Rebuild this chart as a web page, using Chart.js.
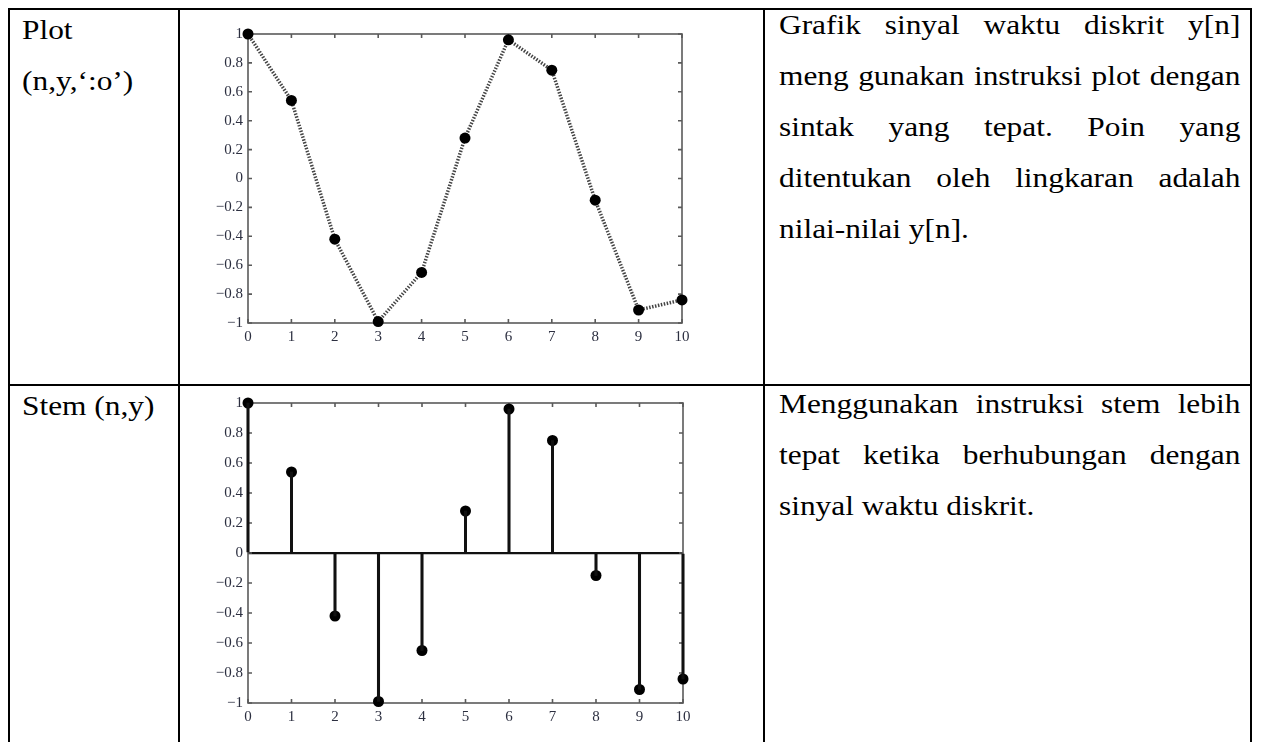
<!DOCTYPE html>
<html>
<head>
<meta charset="utf-8">
<script src="https://cdn.jsdelivr.net/npm/chart.js@4.4.1/dist/chart.umd.min.js"></script>
<style>
  body { margin: 0; background: #fff; width: 1261px; height: 742px; overflow: hidden; position: relative; }
  .garis { position: absolute; background: #000; }
  .teks {
    position: absolute;
    font-family: 'Liberation Serif', 'Times New Roman', serif;
    font-size: 26.6px;
    line-height: 51px;
    color: #000;
    transform: scaleX(1.18);
    transform-origin: 0 0;
    white-space: nowrap;
  }
  .teks.rata div { text-align: justify; text-align-last: justify; }
  .teks.rata div.akhir { text-align-last: left; }
  canvas { position: absolute; }
</style>
</head>
<body>

<!-- garis tabel -->
<div class="garis" style="left:8px;top:8px;width:1244px;height:2px"></div>
<div class="garis" style="left:8px;top:384px;width:1244px;height:2px"></div>
<div class="garis" style="left:8px;top:8px;width:2px;height:734px"></div>
<div class="garis" style="left:178px;top:8px;width:2px;height:734px"></div>
<div class="garis" style="left:763px;top:8px;width:2px;height:734px"></div>
<div class="garis" style="left:1250px;top:8px;width:2px;height:734px"></div>

<div class="teks" style="left:22px;top:4.5px">Plot<br>(n,y,‘:o’)</div>
<div class="teks" style="left:22px;top:380.5px">Stem (n,y)</div>

<div class="teks rata" style="left:779px;top:0px;width:391px;white-space:normal">
  <div>Grafik sinyal waktu diskrit y[n]</div>
  <div>meng gunakan instruksi plot dengan</div>
  <div>sintak yang tepat. Poin yang</div>
  <div>ditentukan oleh lingkaran adalah</div>
  <div class="akhir">nilai-nilai y[n].</div>
</div>
<div class="teks rata" style="left:779px;top:378.5px;width:391px;white-space:normal">
  <div>Menggunakan instruksi stem lebih</div>
  <div>tepat ketika berhubungan dengan</div>
  <div class="akhir">sinyal waktu diskrit.</div>
</div>

<canvas id="grafikPlot" width="510" height="325" style="left:190px;top:20px"></canvas>
<canvas id="grafikStem" width="511" height="336" style="left:190px;top:389px"></canvas>

<script>
// sinyal waktu diskrit y[n]
var n = [0, 1, 2, 3, 4, 5, 6, 7, 8, 9, 10];
var y = [1.00, 0.54, -0.42, -0.99, -0.65, 0.28, 0.96, 0.75, -0.15, -0.91, -0.84];
var tickX = [0, 1, 2, 3, 4, 5, 6, 7, 8, 9, 10];
var tickY = [-1, -0.8, -0.6, -0.4, -0.2, 0, 0.2, 0.4, 0.6, 0.8, 1];

var titik = n.map(function (v, i) { return { x: v, y: y[i] }; });

var hurufTick = { family: "'Liberation Serif', 'Times New Roman', serif", size: 15 };
Chart.defaults.color = '#2c2f40';
Chart.defaults.animation = false;

function labelAngka(v) {
    var s = String(Math.round(v * 10) / 10);
    return s.replace('-', '\u2212');
}

// kotak grafik dengan tanda tick ke arah dalam
var bingkai = {
    id: 'bingkai',
    beforeDatasetsDraw: function (chart) {
        var ctx = chart.ctx, a = chart.chartArea;
        var sx = chart.scales.x, sy = chart.scales.y;
        ctx.save();
        ctx.strokeStyle = '#5a5a5a';
        ctx.lineWidth = 1.6;
        ctx.strokeRect(a.left, a.top, a.right - a.left, a.bottom - a.top);
        ctx.beginPath();
        tickX.forEach(function (v) {
            var px = sx.getPixelForValue(v);
            ctx.moveTo(px, a.bottom); ctx.lineTo(px, a.bottom - 4);
            ctx.moveTo(px, a.top); ctx.lineTo(px, a.top + 4);
        });
        tickY.forEach(function (v) {
            var py = sy.getPixelForValue(v);
            ctx.moveTo(a.left, py); ctx.lineTo(a.left + 4, py);
            ctx.moveTo(a.right, py); ctx.lineTo(a.right - 4, py);
        });
        ctx.stroke();
        ctx.restore();
    }
};

function skala(garisNol) {
    return {
        x: {
            type: 'linear', min: 0, max: 10, offset: false,
            afterFit: function (s) { s.height = 22; },
            afterBuildTicks: function (s) { s.ticks = tickX.map(function (v) { return { value: v }; }); },
            grid: { display: false, drawTicks: false },
            border: { display: false },
            ticks: { padding: 5, autoSkip: false, maxRotation: 0, font: hurufTick, color: '#2c2f40' }
        },
        y: {
            type: 'linear', min: -1, max: 1,
            afterFit: function (s) { s.width = 58; },
            afterBuildTicks: function (s) { s.ticks = tickY.map(function (v) { return { value: v }; }); },
            grid: {
                display: garisNol, drawTicks: false, lineWidth: 2.2,
                color: function (c) { return c.tick && c.tick.value === 0 ? '#111' : 'rgba(0,0,0,0)'; }
            },
            border: { display: false },
            ticks: { padding: 5, callback: labelAngka, font: hurufTick, color: '#2c2f40' }
        }
    };
}

var umum = {
    responsive: false,
    layout: { padding: { top: 10, right: 18, left: 0, bottom: 0 } },
    plugins: { legend: { display: false }, tooltip: { enabled: false } }
};

new Chart(document.getElementById('grafikPlot'), {
    type: 'line',
    data: {
        datasets: [{
            data: titik,
            borderColor: '#444',
            borderWidth: 3.5,
            borderDash: [1.5, 1.5],
            pointRadius: 5.5,
            pointBackgroundColor: '#000',
            pointBorderWidth: 0,
            clip: false
        }]
    },
    options: Object.assign({}, umum, { scales: skala(false) }),
    plugins: [bingkai]
});

new Chart(document.getElementById('grafikStem'), {
    type: 'bar',
    data: {
        datasets: [{
            type: 'bar',
            data: titik,
            backgroundColor: '#111',
            barThickness: 2.4,
            clip: false
        }, {
            type: 'scatter',
            data: titik,
            pointRadius: 5.5,
            pointBackgroundColor: '#000',
            pointBorderWidth: 0,
            clip: false
        }]
    },
    options: Object.assign({}, umum, { scales: skala(true) }),
    plugins: [bingkai]
});
</script>
</body>
</html>
